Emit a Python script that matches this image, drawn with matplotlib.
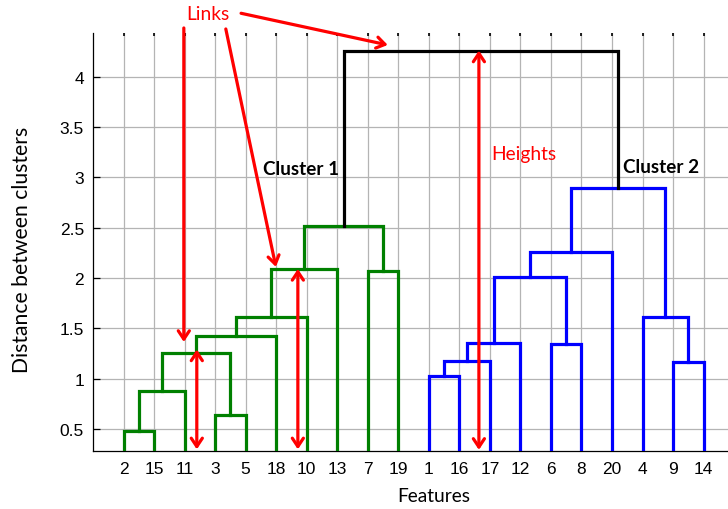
import matplotlib
matplotlib.use('Agg')
import matplotlib.pyplot as plt

# ---- data ----
leaf_labels = ['2', '15', '11', '3', '5', '18', '10', '13', '7', '19',
               '1', '16', '17', '12', '6', '8', '20', '4', '9', '14']
# merges: node ids < 20 are leaves, >= 20 are earlier merges (20 + index)
merge_left = [0, 20, 3, 21, 23, 24, 25, 8, 26, 10, 29, 30, 14, 31, 33, 18, 17, 34, 28]
merge_right = [1, 2, 4, 22, 5, 6, 7, 9, 27, 11, 12, 13, 15, 32, 16, 19, 35, 36, 37]
merge_height = [0.48, 0.88, 0.64, 1.25, 1.42, 1.61, 2.09, 2.07, 2.52,
                1.03, 1.18, 1.35, 1.34, 2.01, 2.26, 1.17, 1.61, 2.89, 4.26]
merge_group = ['Cluster 1'] * 9 + ['Cluster 2'] * 9 + ['root']
y_ticks = [0.5, 1, 1.5, 2, 2.5, 3, 3.5, 4]

group_colors = {'Cluster 1': '#008000', 'Cluster 2': '#0000ff', 'root': 'black'}

FIG_W, FIG_H = 728, 510
fig = plt.figure(figsize=(FIG_W / 100, FIG_H / 100), dpi=100)
AX_W = 21 * 30.53
AX_H = 452 - 34
ax = fig.add_axes([93 / FIG_W, 1 - 452 / FIG_H, AX_W / FIG_W, AX_H / FIG_H])

n = len(leaf_labels)
node_x = [float(i + 1) for i in range(n)]
node_h = [0.0] * n
for l, r, h, g in zip(merge_left, merge_right, merge_height, merge_group):
    xl, xr = node_x[l], node_x[r]
    hl, hr = node_h[l], node_h[r]
    ax.plot([xl, xl, xr, xr], [hl, h, h, hr], color=group_colors[g], lw=2.3,
            solid_joinstyle='miter', zorder=3)
    node_x.append((xl + xr) / 2)
    node_h.append(h)

ymin, ymax = 0.281, 4.434
ax.set_xlim(0, 21)
ax.set_ylim(ymin, ymax)
ax.set_xticks(range(1, n + 1))
ax.set_xticklabels(leaf_labels, fontsize=12.5, family='Liberation Sans')
ax.set_yticks(y_ticks)
ax.set_yticklabels([f'{v:g}' for v in y_ticks], fontsize=12.5, family='Liberation Sans')
ax.grid(True, color='#b4b4b4', lw=0.9)
ax.set_axisbelow(True)
for s in ['top', 'right']:
    ax.spines[s].set_visible(False)
ax.spines['left'].set_linewidth(0.9)
ax.spines['bottom'].set_linewidth(0.9)
ax.tick_params(axis='x', direction='in', length=2, top=True, pad=7, width=1.2)
ax.tick_params(axis='y', direction='in', length=5, pad=6.5, width=0.9)

lab_font = 'Lato'
ax.set_xlabel('Features', fontsize=13.8, family=lab_font, va='center')
ax.xaxis.set_label_coords((434 - 93) / AX_W, (452 - 497) / AX_H)
ax.set_ylabel('Distance between clusters', fontsize=15.2, family=lab_font, va='center')
ax.yaxis.set_label_coords((22 - 93) / AX_W, (452 - 250) / AX_H)

# cluster labels
ax.text(6.81, 3.083, 'Cluster 1', fontsize=13.6, fontweight='bold', family=lab_font,
        ha='center', va='center', zorder=5)
ax.text(18.6, 3.11, 'Cluster 2', fontsize=13.6, fontweight='bold', family=lab_font,
        ha='center', va='center', zorder=5)

red = '#ff0000'
ax.text(14.1, 3.24, 'Heights', fontsize=13.8, color=red, family=lab_font,
        ha='center', va='center', zorder=5)
ax.text(3.76, 4.63, 'Links', fontsize=13.8, color=red, family=lab_font,
        ha='center', va='center', zorder=5, clip_on=False)

one = dict(arrowstyle='->,head_length=0.6,head_width=0.4', color=red, lw=2.3,
           shrinkA=0, shrinkB=0)
two = dict(arrowstyle='<->,head_length=0.6,head_width=0.4', color=red, lw=2.3,
           shrinkA=0, shrinkB=0)

# "Links" arrows
ax.annotate('', xy=(9.655, 4.315), xytext=(4.85, 4.63), arrowprops=one,
            annotation_clip=False, zorder=6)
ax.annotate('', xy=(2.975, 1.364), xytext=(2.975, 4.484), arrowprops=one,
            annotation_clip=False, zorder=6)
ax.annotate('', xy=(5.99, 2.11), xytext=(4.35, 4.474), arrowprops=one,
            annotation_clip=False, zorder=6)

# height arrows
bot = ymin + 0.016
ax.annotate('', xy=(3.40, merge_height[3] + 0.04), xytext=(3.40, bot), arrowprops=two,
            annotation_clip=False, zorder=6)
ax.annotate('', xy=(6.71, merge_height[6]), xytext=(6.71, bot), arrowprops=two,
            annotation_clip=False, zorder=6)
ax.annotate('', xy=(12.64, merge_height[-1]), xytext=(12.64, bot - 0.005), arrowprops=two,
            annotation_clip=False, zorder=6)

fig.savefig('out.png', dpi=100)
